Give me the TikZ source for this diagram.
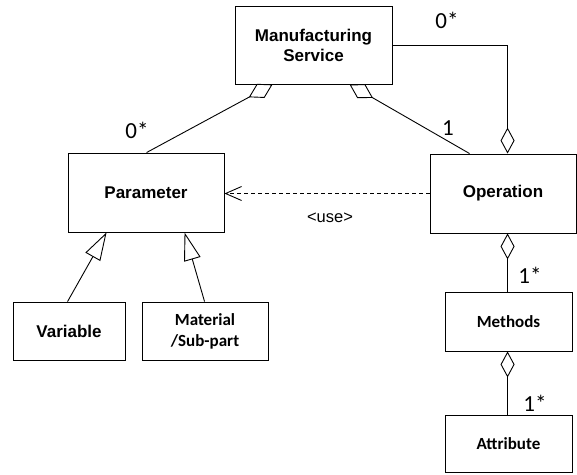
\documentclass[tikz,border=0pt]{standalone}
\usepackage{fontspec}
\setmainfont{Liberation Sans}
\newfontfamily\carl{Carlito}
\usetikzlibrary{arrows.meta,calc}
\begin{document}
\begin{tikzpicture}[x=1pt,y=-1pt, line width=0.9pt,
  box/.style={draw, fill=white, inner sep=0pt, align=center, font=\bfseries\fontsize{17}{20}\selectfont},
  cbox/.style={box, font=\carl\bfseries\fontsize{17}{21}\selectfont},
  mult/.style={font=\carl\fontsize{23}{23}\selectfont, inner sep=0pt},
  agg/.style={{Diamond[open,length=26pt,width=14pt]}-},
  sagg/.style={{Diamond[open,length=27pt,width=16pt]}-},
  gen/.style={{Triangle[open,length=28pt,width=17pt]}-},
  dep/.style={dash pattern=on 4pt off 3pt, -{Straight Barb[length=16pt,width=14pt]}}]
\useasboundingbox (0,0) rectangle (577,474);
\node[box, minimum width=157pt, minimum height=78pt] (ms) at (313.5,45) {Manufacturing\\Service};
\node[box, minimum width=156pt, minimum height=79pt] (param) at (146,192.5) {Parameter};
\node[box, minimum width=146pt, minimum height=79pt] (op) at (503,193.5) {Operation};
\node[box, minimum width=112pt, minimum height=58pt] (var) at (69,331) {Variable};
\node[cbox, minimum width=126pt, minimum height=58pt] (mat) at (205,331) {Material\\/Sub-part};
\node[cbox, minimum width=127pt, minimum height=59pt] (meth) at (508.5,321.5) {Methods};
\node[cbox, minimum width=127pt, minimum height=57pt] (attr) at (508.5,443.5) {Attribute};
% aggregations
\draw[sagg] ($(ms.south west)+(38,0)$) -- ($(param.north west)+(79,0)$);
\draw[sagg] ($(ms.south west)+(115,0)$) -- ($(op.north west)+(40,0)$);
\draw[agg] ($(op.north west)+(78,0)$) |- (ms.east);
\draw[agg] ($(op.south west)+(78,0)$) -- ($(meth.north west)+(63,0)$);
\draw[agg] ($(meth.south west)+(63,0)$) -- ($(attr.north west)+(63,0)$);
% generalizations
\draw[gen] ($(param.south west)+(39,0)$) -- ($(var.north west)+(55,0)$);
\draw[gen] ($(param.south west)+(117,0)$) -- ($(mat.north west)+(63,0)$);
% dependency
\draw[dep] (op.west) -- (op.west -| param.east);
% labels
\node[mult] (m1) at (447,20) {0*};
\node[mult] (m2) at (137,130) {0*};
\node[mult] (m3) at (448,128) {1};
\node[mult] (m4) at (530,275.5) {1*};
\node[mult] (m5) at (535,403) {1*};
\node[font=\fontsize{16.5}{16.5}\selectfont, inner sep=0pt] (use) at (330,218) {<use>};
\end{tikzpicture}
\end{document}
